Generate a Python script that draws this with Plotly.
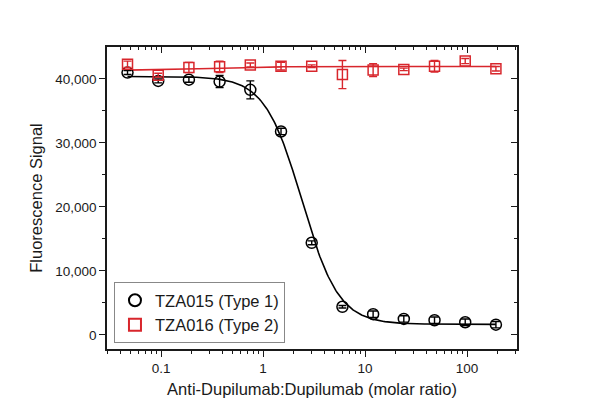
import numpy as np
import plotly.graph_objects as go

# ---- data ----
ratio = [0.046875, 0.09375, 0.1875, 0.375, 0.75, 1.5, 3, 6, 12, 24, 48, 96, 192]

tza015 = [41000, 39700, 39900, 39600, 38300, 31800, 14400, 4400, 3250, 2500, 2300, 1980, 1600]
tza015_err = [300, 300, 400, 950, 1400, 500, 300, 200, 500, 500, 500, 500, 500]

tza016 = [42300, 40600, 41800, 41900, 42200, 42000, 42000, 40700, 41400, 41500, 42000, 42800, 41600]
tza016_err = [500, 300, 800, 900, 300, 600, 200, 2200, 1000, 200, 900, 400, 350]

# 4-parameter logistic fit parameters
fit015 = dict(top=40400, bottom=1650, ec50=2.4, hill=2.4)
fit016 = dict(top=41350, bottom=41950, ec50=0.3, hill=1.5)

x_ticks = [0.1, 1, 10, 100]
x_ticklabels = ["0.1", "1", "10", "100"]
y_ticks = [0, 10000, 20000, 30000, 40000]

RED = "#d8262c"
INK = "#1a1a1a"
FONT = "Liberation Sans, Arial, sans-serif"


def logistic(x, p):
    x = np.asarray(x, dtype=float)
    return p["bottom"] + (p["top"] - p["bottom"]) / (1 + (x / p["ec50"]) ** p["hill"])


xfit = np.logspace(np.log10(ratio[0]), np.log10(ratio[-1]), 300)

minor_x = [m * 10.0 ** e for e in range(-2, 3) for m in range(2, 10)]
minor_x = [v for v in minor_x if 0.0295 < v < 309]
minor_y = [5000, 15000, 25000, 35000]

fig = go.Figure()

fig.add_trace(go.Scatter(x=xfit, y=logistic(xfit, fit015), mode="lines",
                         line=dict(color="black", width=1.6), showlegend=False,
                         hoverinfo="skip"))
fig.add_trace(go.Scatter(x=xfit, y=logistic(xfit, fit016), mode="lines",
                         line=dict(color=RED, width=1.6), showlegend=False,
                         hoverinfo="skip"))

fig.add_trace(go.Scatter(
    x=ratio, y=tza015, mode="markers", name="TZA015 (Type 1)",
    marker=dict(symbol="circle-open", size=11, color="black", line=dict(width=1.5)),
    error_y=dict(type="data", array=tza015_err, color="black", thickness=1.4, width=4),
))
fig.add_trace(go.Scatter(
    x=ratio, y=tza016, mode="markers", name="TZA016 (Type 2)",
    marker=dict(symbol="square-open", size=10, color=RED, line=dict(width=1.5)),
    error_y=dict(type="data", array=tza016_err, color=RED, thickness=1.4, width=4),
))

# invisible trace to carry the mirrored axes (top / right, ticks inside)
fig.add_trace(go.Scatter(x=[ratio[0]], y=[tza015[0]], xaxis="x2", yaxis="y2",
                         mode="markers", marker=dict(opacity=0), showlegend=False,
                         hoverinfo="skip"))

xr = [np.log10(0.0295), np.log10(309)]
yr = [-2200, 45000]

fig.update_layout(
    width=600, height=418,
    margin=dict(l=107, r=83, t=47, b=69),
    paper_bgcolor="white", plot_bgcolor="white",
    font=dict(family=FONT, size=13, color=INK),
    showlegend=True,
    legend=dict(x=0.017, y=0.02, xanchor="left", yanchor="bottom",
                bgcolor="white", bordercolor="#888", borderwidth=1,
                font=dict(family=FONT, size=16.5, color=INK),
                tracegroupgap=0, itemsizing="constant"),
    xaxis=dict(
        type="log", range=xr, showgrid=False, zeroline=False,
        showline=True, linecolor=INK, linewidth=1.5,
        tickmode="array", tickvals=x_ticks, ticktext=x_ticklabels,
        ticks="outside", ticklen=6, tickwidth=1.3, tickcolor=INK,
        minor=dict(tickmode="array", tickvals=minor_x, ticks="outside",
                   ticklen=3, tickwidth=1.2, tickcolor=INK, showgrid=False),
        title=dict(text="Anti-Dupilumab:Dupilumab (molar ratio)",
                   font=dict(family=FONT, size=16.5, color=INK), standoff=8),
        tickfont=dict(family=FONT, size=13.5, color=INK),
    ),
    yaxis=dict(
        range=yr, showgrid=False, zeroline=False,
        showline=True, linecolor=INK, linewidth=1.5,
        tickmode="array", tickvals=y_ticks, tickformat=",d",
        ticks="outside", ticklen=6, tickwidth=1.3, tickcolor=INK,
        minor=dict(tickmode="array", tickvals=minor_y, ticks="outside",
                   ticklen=3, tickwidth=1.2, tickcolor=INK, showgrid=False),
        title=dict(text="Fluorescence Signal",
                   font=dict(family=FONT, size=16.5, color=INK), standoff=8),
        tickfont=dict(family=FONT, size=13.5, color=INK),
    ),
    xaxis2=dict(
        type="log", range=xr, overlaying="x", side="top", anchor="y2",
        showgrid=False, zeroline=False, showline=True, linecolor=INK, linewidth=1.5,
        tickmode="array", tickvals=x_ticks, showticklabels=False,
        ticks="inside", ticklen=6, tickwidth=1.3, tickcolor=INK,
        minor=dict(tickmode="array", tickvals=minor_x, ticks="inside",
                   ticklen=3, tickwidth=1.2, tickcolor=INK, showgrid=False),
    ),
    yaxis2=dict(
        range=yr, overlaying="y", side="right", anchor="x2",
        showgrid=False, zeroline=False, showline=True, linecolor=INK, linewidth=1.5,
        tickmode="array", tickvals=y_ticks, showticklabels=False,
        ticks="inside", ticklen=6, tickwidth=1.3, tickcolor=INK,
        minor=dict(tickmode="array", tickvals=minor_y, ticks="inside",
                   ticklen=3, tickwidth=1.2, tickcolor=INK, showgrid=False),
    ),
)

fig.write_html("out.html")
